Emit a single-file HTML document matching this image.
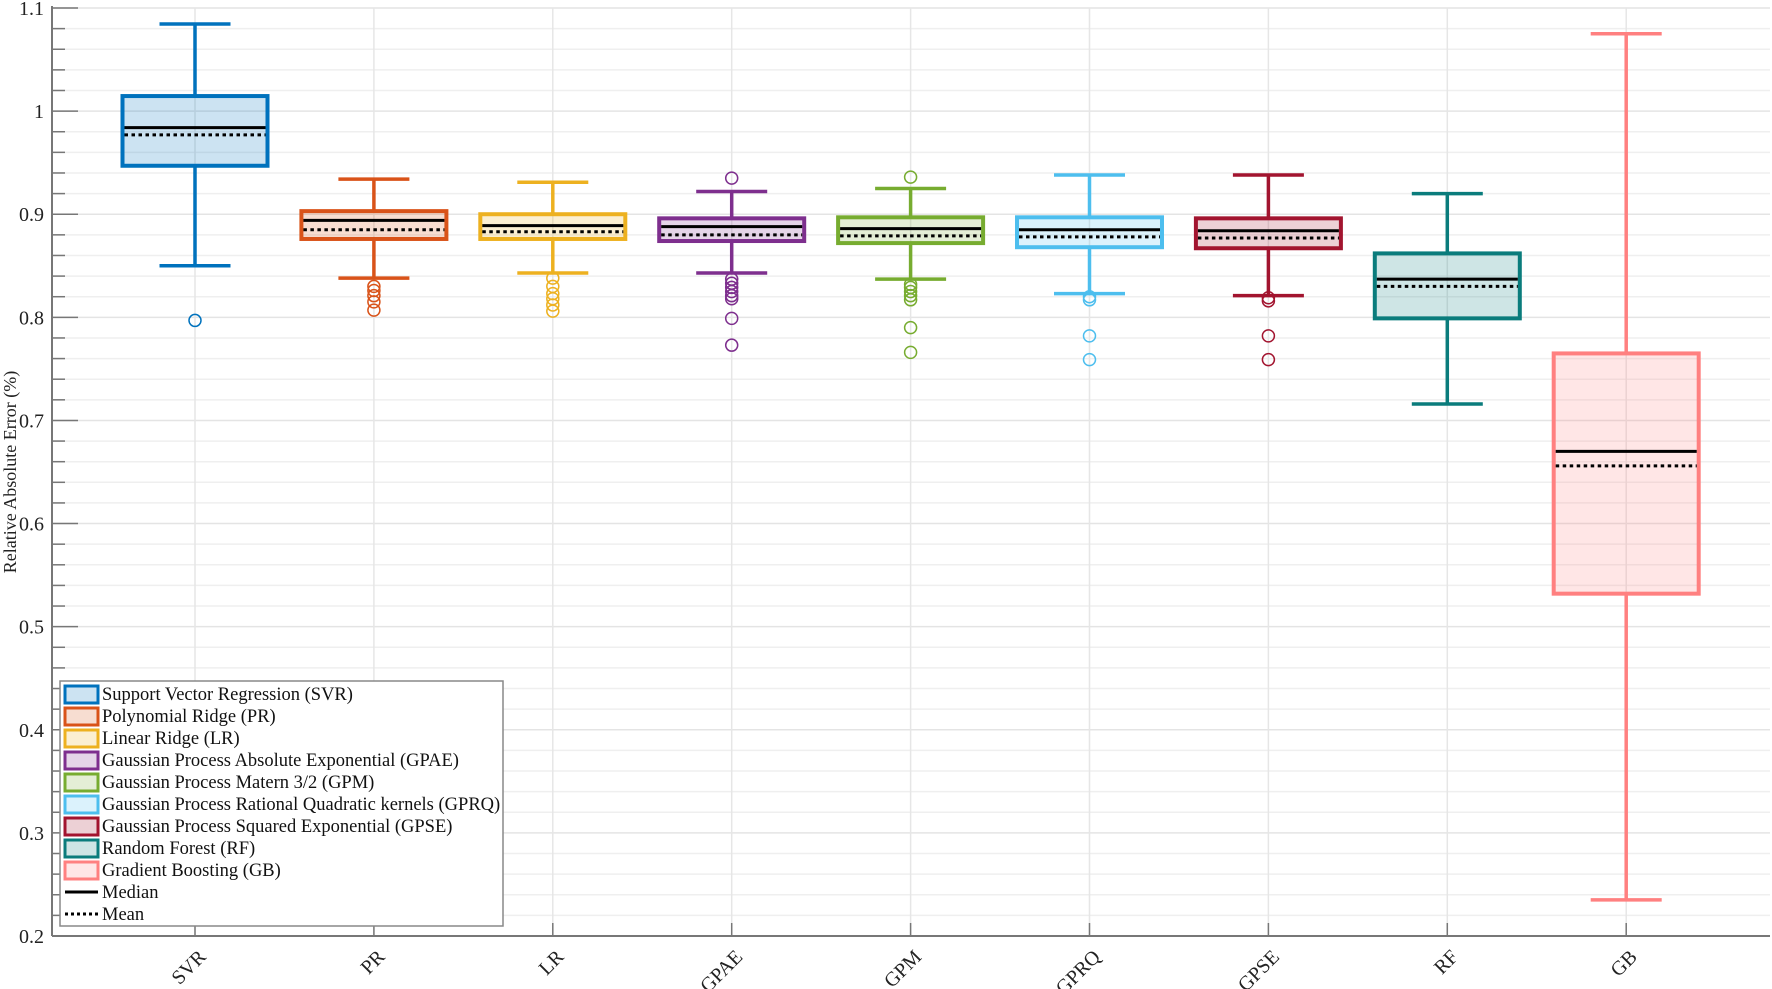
<!DOCTYPE html>
<html><head><meta charset="utf-8">
<style>
html,body{margin:0;padding:0;background:#fff;}
svg{display:block;font-family:"Liberation Serif",serif;}
</style></head>
<body>
<svg id="chart" width="1772" height="989" viewBox="0 0 1772 989" xmlns="http://www.w3.org/2000/svg">
<g id="grid"></g>
<g id="axes"></g>
<g id="boxes"></g>
<g id="legend"></g>
</svg>
<script>
const categories = ["SVR","PR","LR","GPAE","GPM","GPRQ","GPSE","RF","GB"];
const whiskerHigh = [1.0845,0.934,0.931,0.922,0.925,0.938,0.938,0.920,1.075];
const q3 = [1.0146,0.903,0.900,0.896,0.897,0.897,0.896,0.862,0.765];
const medians = [0.984,0.894,0.889,0.888,0.886,0.885,0.884,0.837,0.670];
const means = [0.977,0.885,0.883,0.880,0.879,0.878,0.877,0.830,0.656];
const q1 = [0.947,0.876,0.876,0.874,0.872,0.868,0.867,0.799,0.532];
const whiskerLow = [0.850,0.838,0.843,0.843,0.837,0.823,0.821,0.716,0.235];
const outliers = [
  [0.797],
  [0.830,0.826,0.821,0.815,0.807],
  [0.838,0.830,0.823,0.818,0.812,0.806],
  [0.935,0.837,0.833,0.829,0.825,0.821,0.818,0.799,0.773],
  [0.936,0.832,0.829,0.825,0.821,0.817,0.790,0.766],
  [0.820,0.817,0.782,0.759],
  [0.819,0.816,0.782,0.759],
  [],
  []
];
const colors = ["#0072BD","#D95319","#EDB120","#7E2F8E","#77AC30","#4DBEEE","#A2142F","#0A7C7C","#FF8080"];
const legendLabels = ["Support Vector Regression (SVR)","Polynomial Ridge (PR)","Linear Ridge (LR)","Gaussian Process Absolute Exponential (GPAE)","Gaussian Process Matern 3/2 (GPM)","Gaussian Process Rational Quadratic kernels (GPRQ)","Gaussian Process Squared Exponential (GPSE)","Random Forest (RF)","Gradient Boosting (GB)"];
const yTicks = [0.2,0.3,0.4,0.5,0.6,0.7,0.8,0.9,1,1.1];
const yTickLabels = ["0.2","0.3","0.4","0.5","0.6","0.7","0.8","0.9","1","1.1"];

const NS="http://www.w3.org/2000/svg";
const X0=52, X1=1770, Y0=936, Y1=8, YMIN=0.2, YMAX=1.1;
function y(v){return Y0-(v-YMIN)/(YMAX-YMIN)*(Y0-Y1);}
function x(i){return 195+i*178.9;}
function mk(tag,attrs,parent){const e=document.createElementNS(NS,tag);for(const k in attrs)e.setAttribute(k,attrs[k]);parent.appendChild(e);return e;}
const grid=document.getElementById('grid'),axes=document.getElementById('axes'),boxes=document.getElementById('boxes'),legend=document.getElementById('legend');

for(let k=0;k<=45;k++){
  const v=YMIN+k*0.02, yy=y(v), major=(k%5===0);
  const g=mk('line',{x1:X0,x2:X1,y1:yy,y2:yy,stroke:major?'#e4e4e4':'#efefef','stroke-width':1.5},grid);
  
  
  const t=mk('line',{x1:X0,x2:X0+(major?26:13),y1:yy,y2:yy,stroke:'#777','stroke-width':1.5},axes);
  
  
}
yTicks.forEach((v,i)=>{
  const t=mk('text',{x:44,y:y(v)+7,'text-anchor':'end','font-size':20,fill:'#222'},axes);
  t.textContent=yTickLabels[i];
  
  
});
categories.forEach((c,i)=>{
  const g=mk('line',{x1:x(i),x2:x(i),y1:Y1,y2:Y0,stroke:'#e6e6e6','stroke-width':1.5},grid);
  
  
  const t=mk('line',{x1:x(i),x2:x(i),y1:Y0,y2:Y0-13,stroke:'#777','stroke-width':1.5},axes);
  
  
  const l=mk('text',{x:0,y:0,'text-anchor':'end','font-size':20,fill:'#222',transform:`translate(${x(i)+12},${Y0+22}) rotate(-45)`},axes);
  l.textContent=c;
  
  
});
const ax1=mk('line',{x1:X0,x2:X0,y1:Y1-2,y2:Y0,stroke:'#777','stroke-width':2},axes);


const ax2=mk('line',{x1:X0,x2:X1,y1:Y0,y2:Y0,stroke:'#777','stroke-width':2},axes);


const yl=mk('text',{x:0,y:0,'text-anchor':'middle','font-size':18,fill:'#222',transform:`translate(16,472) rotate(-90)`},axes);
yl.textContent="Relative Absolute Error (%)";



const BW=145, CW=71;
categories.forEach((c,i)=>{
  const g=mk('g',{},boxes);
  
  
  const cx=x(i), col=colors[i];
  mk('line',{x1:cx,x2:cx,y1:y(whiskerHigh[i]),y2:y(q3[i]),stroke:col,'stroke-width':3.5},g);
  mk('line',{x1:cx,x2:cx,y1:y(q1[i]),y2:y(whiskerLow[i]),stroke:col,'stroke-width':3.5},g);
  mk('line',{x1:cx-CW/2,x2:cx+CW/2,y1:y(whiskerHigh[i]),y2:y(whiskerHigh[i]),stroke:col,'stroke-width':3.5},g);
  mk('line',{x1:cx-CW/2,x2:cx+CW/2,y1:y(whiskerLow[i]),y2:y(whiskerLow[i]),stroke:col,'stroke-width':3.5},g);
  mk('rect',{x:cx-BW/2,y:y(q3[i]),width:BW,height:y(q1[i])-y(q3[i]),fill:col,'fill-opacity':0.2,stroke:col,'stroke-width':4},g);
  mk('line',{x1:cx-BW/2+2,x2:cx+BW/2-2,y1:y(medians[i]),y2:y(medians[i]),stroke:'#000','stroke-width':3},g);
  mk('line',{x1:cx-BW/2+2,x2:cx+BW/2-2,y1:y(means[i]),y2:y(means[i]),stroke:'#000','stroke-width':3,'stroke-dasharray':'3.5 3.5'},g);
  outliers[i].forEach(v=>{mk('circle',{cx:cx,cy:y(v),r:6,fill:'none',stroke:col,'stroke-width':1.5},g);});
});

const lb=mk('rect',{x:60,y:681,width:443,height:245,fill:'#fff',stroke:'#888','stroke-width':1.5},legend);


legendLabels.forEach((t,i)=>{
  const cy=694+i*22;
  const g=mk('g',{},legend);
  
  
  mk('rect',{x:65,y:cy-8,width:33,height:17,fill:colors[i],'fill-opacity':0.2,stroke:colors[i],'stroke-width':3},g);
  const tx=mk('text',{x:102,y:cy+6,'font-size':18.5,fill:'#111'},g);
  tx.textContent=t;
});
[["Median",""],["Mean","3 3"]].forEach((m,j)=>{
  const cy=694+(9+j)*22;
  const g=mk('g',{},legend);
  
  
  const a={x1:65,x2:98,y1:cy,y2:cy,stroke:'#000','stroke-width':3};
  if(m[1])a['stroke-dasharray']=m[1];
  mk('line',a,g);
  const tx=mk('text',{x:102,y:cy+6,'font-size':18.5,fill:'#111'},g);
  tx.textContent=m[0];
});
</script>
</body></html>
